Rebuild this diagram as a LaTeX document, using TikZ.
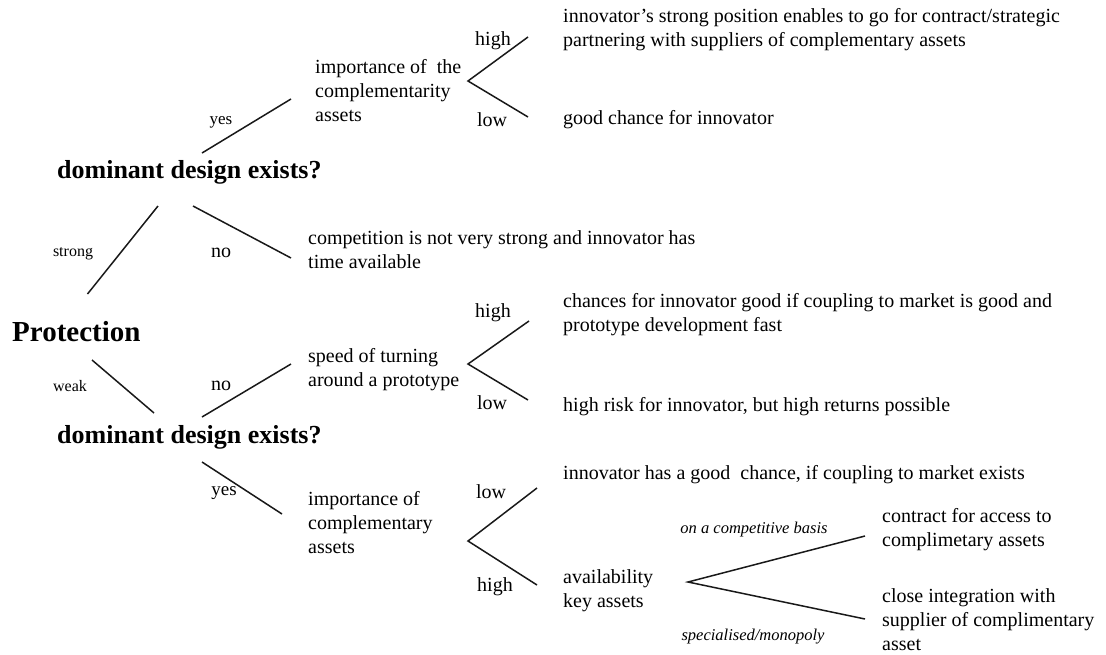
\documentclass[tikz,border=0pt]{standalone}
\usepackage{fontspec}
\setmainfont{Liberation Serif}
\begin{document}
\begin{tikzpicture}[x=1pt,y=-1pt,
  txt/.style={anchor=west,inner sep=0pt,align=left,font=\fontsize{20}{24}\selectfont},
  lbl/.style={inner sep=0pt,font=\fontsize{20}{24}\selectfont},
  small/.style={inner sep=0pt,font=\fontsize{16}{19}\selectfont},
  ital/.style={inner sep=0pt,font=\fontsize{16.5}{20}\selectfont\itshape},
  head/.style={anchor=west,inner sep=0pt,font=\fontsize{26}{30}\selectfont\bfseries},
  ln/.style={line width=1.5pt,black!90}]
\useasboundingbox (0,0) rectangle (1106,654);

% main question nodes
\node[head,font=\fontsize{29}{32}\selectfont\bfseries] (prot) at (12,332) {Protection};
\node[head] (dd1) at (57,172) {dominant design exists?};
\node[head] (dd2) at (57,437) {dominant design exists?};

% intermediate texts
\node[txt] (imp1) at (315,91) {importance of\ \ the\\complementarity\\assets};
\node[txt] (comp) at (308,250) {competition is not very strong and innovator has\\time available};
\node[txt] (speed) at (308,370) {speed of turning\\around a prototype};
\node[txt] (imp2) at (308,523) {importance of\\complementary\\assets};
\node[txt] (avail) at (563,591) {availability\\key assets};

% outcomes
\node[txt] (r1) at (563,30) {innovator's strong position enables to go for contract/strategic\\partnering with suppliers of complementary assets};
\node[txt] (r2) at (563,120) {good chance for innovator};
\node[txt] (r3) at (563,315) {chances for innovator good if coupling to market is good and\\prototype development fast};
\node[txt] (r4) at (563,407) {high risk for innovator, but high returns possible};
\node[txt] (r5) at (563,475) {innovator has a good\ \ chance, if coupling to market exists};
\node[txt] (r6) at (882,530) {contract for access to\\complimetary assets};
\node[txt] (r7) at (882,620) {close integration with\\supplier of complimentary\\asset};

% connector end points
\coordinate (s1) at (87.5,294); \coordinate (s2) at (158,206);
\coordinate (n1a) at (193,206); \coordinate (n1b) at (291,258);
\coordinate (y1a) at (202,153); \coordinate (y1b) at (291,99);
\coordinate (w1) at (92,360);   \coordinate (w2) at (154,413);
\coordinate (n2a) at (202,417); \coordinate (n2b) at (291,364);
\coordinate (y2a) at (202,462); \coordinate (y2b) at (282,514);

\coordinate (f1) at (468,81);  \coordinate (f1h) at (528,37);  \coordinate (f1l) at (528,117);
\coordinate (f2) at (468,364); \coordinate (f2h) at (529,321); \coordinate (f2l) at (528,400);
\coordinate (f3) at (468,541); \coordinate (f3l) at (537,488); \coordinate (f3h) at (537,585);
\coordinate (f4) at (688,582); \coordinate (f4a) at (865,536); \coordinate (f4b) at (865,619);

% connectors
\draw[ln] (s1) -- (s2);
\draw[ln] (n1a) -- (n1b);
\draw[ln] (y1a) -- (y1b);
\draw[ln] (w1) -- (w2);
\draw[ln] (n2a) -- (n2b);
\draw[ln] (y2a) -- (y2b);
\draw[ln] (f1h) -- (f1) -- (f1l);
\draw[ln] (f2h) -- (f2) -- (f2l);
\draw[ln] (f3l) -- (f3) -- (f3h);
\draw[ln] (f4a) -- (f4) -- (f4b);

% branch labels
\node[small] (lstrong) at (73,254) {strong};
\node[small] (lweak) at (70,386) {weak};
\node[lbl] (lno1) at (221,253) {no};
\node[small,font=\fontsize{17}{20}\selectfont] (lyes1) at (221,122) {yes};
\node[lbl] (lno2) at (221,386) {no};
\node[lbl,font=\fontsize{19}{22}\selectfont] (lyes2) at (224,493) {yes};
\node[lbl] (lh1) at (493,41) {high};
\node[lbl] (ll1) at (492,120) {low};
\node[lbl] (lh2) at (493,313) {high};
\node[lbl] (ll2) at (492,403) {low};
\node[lbl] (ll3) at (491,492) {low};
\node[lbl] (lh3) at (495,587) {high};
\node[ital] (lcomp) at (754,530) {on a competitive basis};
\node[ital] (lspec) at (753,637) {specialised/monopoly};
\end{tikzpicture}
\end{document}
